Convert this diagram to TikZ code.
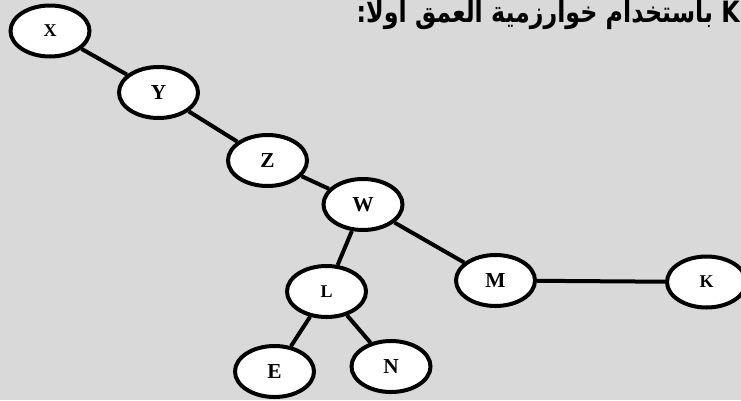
\documentclass[tikz,border=0pt]{standalone}
\usepackage{fontspec}
\setmainfont{Liberation Serif}
\newfontfamily\arabicfont[Script=Arabic, FakeStretch=0.81]{DejaVu Sans}
\TeXXeTstate=1
\usetikzlibrary{shapes.geometric}
\definecolor{bggray}{RGB}{217,217,217}
\tikzset{
  vert/.style={ellipse, draw=black, fill=white, line width=3pt,
    minimum width=59.25pt, minimum height=38.25pt, inner sep=0pt,
    font=\bfseries\fontsize{16}{16}\selectfont},
  vsmall/.style={font=\bfseries\fontsize{13.5}{13.5}\selectfont},
  edge/.style={draw=black, line width=3pt},
  title/.style={font=\arabicfont\bfseries\fontsize{22}{22}\selectfont, inner sep=0pt, anchor=base east}
}
\begin{document}
\begin{tikzpicture}[x=0.75pt, y=-0.75pt]
\fill[bggray] (0,0) rectangle (741,400);
\useasboundingbox (0,0) rectangle (741,400);
\node[title] (t) at (740,22) {\beginR K باستخدام خوارزمية العمق أولاً:\endR};
\node[vert, vsmall] (X) at (50,31) {X};
\node[vert] (Y) at (158.5,92.5) {Y};
\node[vert] (Z) at (267.5,160.5) {Z};
\node[vert] (W) at (363,204.5) {W};
\node[vert] (M) at (495.5,280.5) {M};
\node[vert, vsmall] (K) at (706.5,282) {K};
\node[vert, vsmall] (L) at (326.5,291.5) {L};
\node[vert] (E) at (274.5,371.5) {E};
\node[vert] (N) at (391,366.5) {N};
\draw[edge] (X) -- (Y);
\draw[edge] (Y) -- (Z);
\draw[edge] (Z) -- (W);
\draw[edge] (W) -- (L);
\draw[edge] (W) -- (M);
\draw[edge] (M) -- (K);
\draw[edge] (L) -- (E);
\draw[edge] (L) -- (N);
\end{tikzpicture}
\end{document}
